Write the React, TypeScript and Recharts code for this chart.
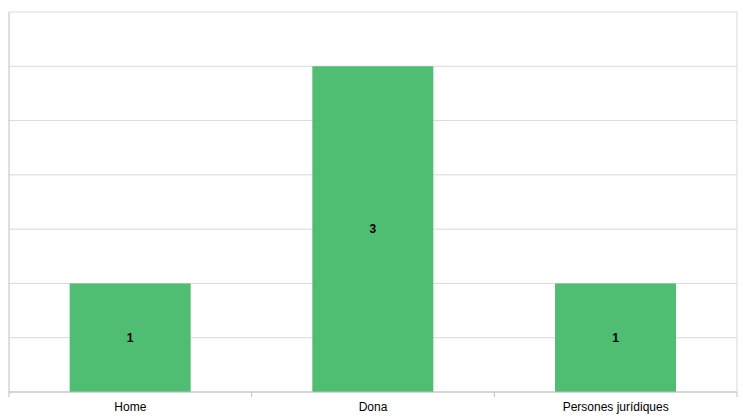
import React from "react";
import {
  Bar,
  BarChart,
  CartesianGrid,
  LabelList,
  XAxis,
  YAxis,
} from "recharts";

const categories = ["Home", "Dona", "Persones jurídiques"];
const counts = [1, 3, 1];
const yTicks = [0, 0.5, 1, 1.5, 2, 2.5, 3, 3.5];

const data = categories.map((name, i) => ({ name, value: counts[i] }));

const FONT = "'Liberation Sans', 'DejaVu Sans', sans-serif";

function CategoryTick(props: any) {
  const { x, y, payload, index } = props;
  const half = payload?.offset ?? 121.3;
  return (
    <g>
      <line x1={x - half} y1={y - 8} x2={x - half} y2={y - 3} stroke="#bfbfbf" />
      {index === categories.length - 1 && (
        <line x1={x + half} y1={y - 8} x2={x + half} y2={y - 3} stroke="#bfbfbf" />
      )}
      <text
        x={x}
        y={y + 11}
        textAnchor="middle"
        fontSize={12}
        fontFamily={FONT}
        fill="#000"
      >
        {payload.value}
      </text>
    </g>
  );
}

const NoTick = () => <g />;

export default function App() {
  return (
    <div style={{ position: "absolute", top: 0, left: 0, width: 743, height: 420, background: "#fff" }}>
      <BarChart
        width={743}
        height={420}
        data={data}
        margin={{ top: 12, right: 5, left: 8, bottom: 0 }}
        barCategoryGap="25%"
      >
        <CartesianGrid
          vertical={false}
          stroke="#d9d9d9"
          yAxisId="left"
          horizontalValues={yTicks}
        />
        <XAxis
          dataKey="name"
          height={28}
          tickLine={false}
          axisLine={{ stroke: "#bfbfbf" }}
          tick={<CategoryTick />}
          interval={0}
        />
        <YAxis
          yAxisId="left"
          width={1}
          domain={[0, 3.5]}
          ticks={yTicks}
          tick={<NoTick />}
          tickLine={false}
          axisLine={{ stroke: "#bfbfbf" }}
        />
        <YAxis
          yAxisId="right"
          orientation="right"
          width={1}
          domain={[0, 3.5]}
          ticks={yTicks}
          tick={<NoTick />}
          tickLine={false}
          axisLine={{ stroke: "#d9d9d9" }}
        />
        <Bar dataKey="value" yAxisId="left" fill="#4fbd72" isAnimationActive={false}>
          <LabelList
            dataKey="value"
            position="center"
            fill="#000"
            fontSize={12}
            fontWeight="bold"
            fontFamily={FONT}
          />
        </Bar>
      </BarChart>
    </div>
  );
}
